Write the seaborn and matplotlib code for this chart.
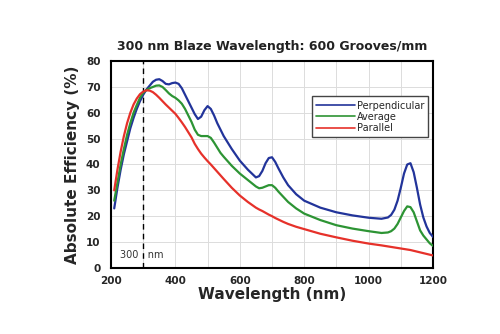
import numpy as np
import pandas as pd
import matplotlib
matplotlib.use("Agg")
import matplotlib.pyplot as plt
import seaborn as sns
from matplotlib.ticker import MultipleLocator
from matplotlib.lines import Line2D

wavelength = [210, 220, 230, 240, 250, 260, 270, 280, 290, 300, 310, 320, 330, 340, 350,
              360, 370, 380, 390, 400, 410, 420, 430, 440, 450, 460, 470, 480, 490, 500,
              510, 520, 530, 540, 550, 575, 600, 625, 650, 660, 670, 680, 690, 700, 710,
              720, 735, 750, 775, 800, 850, 900, 950, 1000, 1040, 1060, 1070, 1080, 1090,
              1100, 1110, 1120, 1130, 1140, 1150, 1160, 1170, 1180, 1190, 1200]

perpendicular = [23, 31, 38, 44, 49, 54, 58, 61.5, 64.5, 67, 69, 70.5, 72, 72.8, 73,
                 72.3, 71.2, 71, 71.5, 71.7, 71.2, 69.5, 67, 64.5, 62, 59.5, 57.6, 58.5, 61, 62.6,
                 61.5, 59, 56, 53.5, 51, 46, 41.5, 38, 35, 35.5, 37.5, 40.5, 42.5, 42.8, 41,
                 38.5, 35, 32, 28.5, 26, 23.3, 21.5, 20.3, 19.4, 19, 19.5, 20.5, 22.5, 26,
                 31, 36.5, 40, 40.5, 37, 31, 24.5, 19.5, 16, 13.5, 12]

average = [26, 33, 40, 46, 51.5, 56, 60, 63, 65.8, 67.8, 68.8, 69.5, 70, 70.5, 70.6,
           70, 68.8, 67.5, 66.5, 65.8, 64.8, 63.5, 61.5, 59, 56.5, 53.5, 51.5, 51, 51, 51,
           50.3, 48.5, 46.5, 44.5, 43, 39.5, 36.5, 34, 31.5, 30.8, 31, 31.5, 32, 32, 31,
           29.5, 27.5, 25.5, 23, 21, 18.5, 16.5, 15.2, 14.2, 13.5, 13.7, 14.2, 15.2, 17,
           19.5, 22, 23.8, 23.5, 21.5, 18, 14.5, 12.5, 11, 9.5, 8.5]

parallel = [30, 38, 45, 51, 56, 60, 63.2, 65.5, 67.2, 68.2, 68.7, 68.6, 68, 67, 65.8,
            64.5, 63.2, 62, 60.8, 59.6, 58, 56.3, 54.5, 52.5, 50.5, 48, 46, 44.2, 42.7, 41.3,
            40, 38.6, 37.2, 35.8, 34.4, 31, 28, 25.5, 23.3, 22.6, 22, 21.3, 20.6, 20, 19.3,
            18.7, 17.8, 17, 15.9, 15, 13.2, 11.8, 10.5, 9.4, 8.7, 8.3, 8.1, 7.9, 7.7,
            7.5, 7.3, 7.1, 6.9, 6.6, 6.3, 6, 5.7, 5.4, 5.1, 4.8]

series_names = ["Perpendicular", "Average", "Parallel"]
colors = ["#22349a", "#2d9434", "#e6312a"]

df = pd.concat([
    pd.DataFrame({"Wavelength": wavelength, "Efficiency": vals, "Series": name})
    for name, vals in zip(series_names, [perpendicular, average, parallel])
])

sns.set_style("white")
plt.rcParams["font.family"] = ["DejaVu Sans"]

fig = plt.figure(figsize=(5, 3.34), dpi=100)
ax = fig.add_axes([0.222, 0.198, 0.644, 0.619])

ax.xaxis.set_major_locator(MultipleLocator(200))
ax.xaxis.set_minor_locator(MultipleLocator(100))
ax.yaxis.set_major_locator(MultipleLocator(10))
ax.grid(True, which="both", axis="x", color="#dcdcdc", linewidth=0.7)
ax.grid(True, which="major", axis="y", color="#dcdcdc", linewidth=0.7)

sns.lineplot(data=df, x="Wavelength", y="Efficiency", hue="Series",
             hue_order=series_names, palette=colors, linewidth=1.6, ax=ax,
             legend=False, zorder=3)

ax.axvline(300, ymin=0, ymax=1, color="black", linestyle=(0, (4, 3)), linewidth=1.0, zorder=2)
ax.text(297, 4.8, "300   nm", ha="center", va="center", fontsize=7, color="#333333", zorder=4)

ax.set_xlim(200, 1200)
ax.set_ylim(0, 80)

for s in ax.spines.values():
    s.set_linewidth(1.5)
    s.set_color("black")

ax.tick_params(axis="both", which="major", labelsize=7.5, width=1.2, length=4, color="black")
ax.tick_params(axis="x", which="both", direction="inout")
ax.tick_params(axis="x", which="minor", length=4, width=1.0)
ax.tick_params(axis="y", direction="out")
for lbl in ax.get_xticklabels() + ax.get_yticklabels():
    lbl.set_fontweight("bold")

ax.set_xlabel("Wavelength (nm)", fontsize=11, fontweight="bold", labelpad=1)
ax.set_ylabel("Absolute Efficiency (%)", fontsize=11, fontweight="bold", labelpad=4)
ax.set_title("300 nm Blaze Wavelength: 600 Grooves/mm", fontsize=9, fontweight="bold",
             pad=8, color="#222222")

handles = [Line2D([0], [0], color=c, linewidth=1.2) for c in colors]
leg = ax.legend(handles, series_names, loc="upper left", bbox_to_anchor=(0.624, 0.83),
                fontsize=7, handlelength=4.0, handletextpad=0.15, labelspacing=0.12,
                borderpad=0.45, borderaxespad=0, frameon=True, fancybox=False, framealpha=1)
leg.get_frame().set_edgecolor("#444444")
leg.get_frame().set_linewidth(1.0)

fig.savefig("out.png", dpi=100)
